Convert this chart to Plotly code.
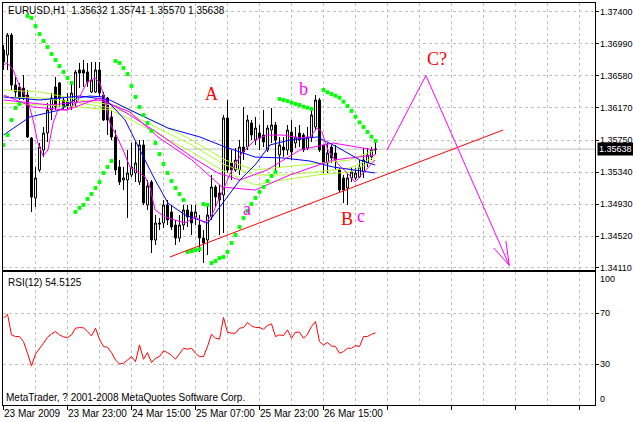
import plotly.graph_objects as go

W, H = 633, 422

# ---------------- data ----------------
bars = list(range(94))
opens = [1.36912,1.36847,1.37104,1.36462,1.36436,1.36423,1.36333,1.35781,1.35010,1.35369,
         1.35626,1.35845,1.36141,1.36436,1.36488,1.36269,1.36256,1.36179,1.36230,1.36655,
         1.36655,1.36629,1.36372,1.36372,1.36655,1.36333,1.36295,1.36051,1.35793,1.35408,
         1.35241,1.35241,1.35305,1.35331,1.35215,1.35691,1.34920,1.35215,1.34470,1.34688,
         1.34688,1.34920,1.34830,1.34662,1.34495,1.34662,1.34855,1.34830,1.34765,1.34662,
         1.34495,1.34470,1.34765,1.35151,1.35074,1.35048,1.36038,1.35459,1.35369,1.35369,
         1.35665,1.35665,1.35973,1.35755,1.35845,1.35819,1.35626,1.35883,1.35948,1.35562,
         1.35665,1.35626,1.35858,1.35716,1.35845,1.35819,1.35652,1.35793,1.35922,1.36269,
         1.35691,1.35459,1.35665,1.35588,1.35369,1.35267,1.35138,1.35267,1.35267,1.35279,
         1.35344,1.35459,1.35537,1.35632]
highs = [1.36976,1.37130,1.37130,1.36565,1.36488,1.36590,1.36398,1.35793,1.35408,1.35716,
         1.35922,1.36230,1.36359,1.36565,1.36500,1.36295,1.36359,1.36500,1.36655,1.36745,
         1.36783,1.36745,1.36757,1.36757,1.36757,1.36372,1.36308,1.36141,1.35883,1.35498,
         1.35408,1.35626,1.35716,1.35729,1.35755,1.35755,1.35241,1.35241,1.34791,1.34752,
         1.34984,1.34984,1.34920,1.34727,1.34791,1.34920,1.34920,1.34920,1.34920,1.34791,
         1.34598,1.34920,1.35305,1.35177,1.35177,1.36076,1.36269,1.35626,1.35652,1.35755,
         1.36179,1.36076,1.36012,1.36051,1.35948,1.36141,1.35948,1.36166,1.35986,1.35793,
         1.35793,1.35948,1.36012,1.35922,1.35948,1.35845,1.35922,1.36141,1.36333,1.36295,
         1.35691,1.35716,1.35691,1.35691,1.35395,1.35305,1.35331,1.35408,1.35395,1.35498,
         1.35652,1.35652,1.35665,1.35741]
lows = [1.36655,1.36655,1.36398,1.36308,1.36269,1.36269,1.35781,1.34830,1.34894,1.35344,
        1.35537,1.35729,1.36012,1.36141,1.36179,1.36141,1.36141,1.36141,1.36179,1.36423,
        1.36436,1.36436,1.36359,1.36359,1.36308,1.36000,1.35819,1.35755,1.35305,1.35177,
        1.35112,1.34752,1.35279,1.35215,1.35177,1.34920,1.34855,1.34303,1.34405,1.34598,
        1.34624,1.34662,1.34598,1.34405,1.34444,1.34598,1.34637,1.34534,1.34662,1.34316,
        1.34174,1.34277,1.34727,1.34894,1.34534,1.34560,1.35331,1.35241,1.35344,1.35305,
        1.35498,1.35626,1.35755,1.35691,1.35626,1.35665,1.35601,1.35716,1.35369,1.35395,
        1.35537,1.35562,1.35498,1.35652,1.35665,1.35601,1.35626,1.35729,1.35883,1.35601,
        1.35331,1.35331,1.35459,1.35369,1.35087,1.34945,1.34920,1.35215,1.35241,1.35267,
        1.35267,1.35408,1.35498,1.35570]
closes = [1.36757,1.37104,1.36462,1.36372,1.36308,1.36295,1.35793,1.35022,1.35267,1.35665,
          1.35845,1.36141,1.36295,1.36179,1.36295,1.36179,1.36179,1.36359,1.36629,1.36616,
          1.36616,1.36500,1.36526,1.36655,1.36359,1.36012,1.36012,1.35793,1.35369,1.35215,
          1.35267,1.35331,1.35408,1.35459,1.35691,1.34945,1.35164,1.34470,1.34688,1.34675,
          1.34920,1.34727,1.34637,1.34495,1.34662,1.34855,1.34765,1.34688,1.34830,1.34495,
          1.34431,1.34791,1.35151,1.35022,1.34984,1.36038,1.35369,1.35369,1.35498,1.35665,
          1.35601,1.36012,1.35819,1.35909,1.35781,1.35729,1.35909,1.35948,1.35755,1.35691,
          1.35626,1.35883,1.35601,1.35793,1.35755,1.35626,1.35793,1.36076,1.36269,1.35626,
          1.35459,1.35588,1.35524,1.35498,1.35112,1.35112,1.35267,1.35344,1.35331,1.35408,
          1.35498,1.35562,1.35626,1.35638]

sar = [1.35691,1.35819,1.36012,1.36166,1.36218,None,1.37349,1.37323,1.37220,1.37117,
       1.37027,1.36950,1.36860,1.36783,1.36706,1.36629,1.36552,1.36488,1.34830,1.34881,
       1.34920,1.34997,1.35061,1.35138,1.35215,1.35331,1.35408,1.35485,1.36770,1.36745,
       1.36680,1.36603,1.36449,1.36308,1.36179,1.36076,1.35973,1.35871,1.35716,1.35575,
       1.35447,1.35331,1.35228,1.35138,1.35061,1.34984,1.34316,1.34328,1.34341,1.34354,
       1.34932,1.34920,1.34174,1.34200,1.34238,1.34251,1.34316,1.34431,1.34534,1.34637,
       1.34752,1.34842,1.34932,1.35010,1.35087,1.35151,1.35228,1.35292,1.35344,1.36282,
       1.36269,1.36256,1.36234,1.36218,1.36205,1.36183,1.36170,1.36153,None,None,
       1.36398,1.36368,1.36346,1.36324,1.36299,1.36247,1.36192,1.36128,1.36054,1.35982,
       1.35922,1.35858,1.35797,1.35742]

rsi = [66.05,69.19,52.98,51.68,51.68,47.75,38.60,28.67,38.08,42.00,
       46.45,51.15,53.77,55.60,52.98,51.41,50.89,52.98,58.21,58.73,
       58.47,55.60,52.20,58.21,49.58,43.83,43.31,39.13,33.37,30.24,
       30.76,33.37,35.99,32.07,45.14,33.90,39.13,31.28,34.68,35.99,
       40.43,39.13,37.04,33.90,38.08,42.53,41.74,42.53,38.60,35.99,
       35.99,43.83,53.51,50.37,49.58,66.58,55.07,54.29,54.29,58.21,
       58.73,62.66,60.04,58.73,58.73,57.43,60.30,61.61,51.68,52.98,
       52.46,56.90,50.37,55.07,55.07,50.37,53.51,59.52,63.44,47.75,
       45.14,46.97,44.36,43.83,38.60,39.91,42.53,42.53,44.62,43.83,
       51.68,51.68,53.51,54.51]

# moving averages (bar index, price)
blue_fast_x = [0,6.6,14.1,18.4,21.6,24.9,27.4,30.4,34.1,37.9,41.1,45.4,51.1,55.4,59.1,62.9,66.6,71.6,78.4,83.4,89.1,92.9]
blue_fast_y = [1.35819,1.36051,1.36141,1.36295,1.36320,1.36308,1.36179,1.36012,1.35626,1.35241,1.34945,1.34791,1.34688,1.34984,1.35241,1.35434,1.35691,1.35755,1.35794,1.35665,1.35498,1.35434]
blue_slow_x = [0,9.1,19.1,26.6,31.6,41.1,49.1,55.4,62.9,69.9,76.6,82.4,92.9]
blue_slow_y = [1.36308,1.36269,1.36320,1.36269,1.36141,1.35909,1.35794,1.35665,1.35536,1.35524,1.35485,1.35408,1.35331]
mag_fast_x = [0,0.9,2.4,4.1,5.9,7.4,8.6,9.9,11.1,12.4,13.6,15.9,18.4,20.9,22.9,24.1,25.4,26.6,28.4,29.9,31.6,32.9,35.4,36.6,37.9,40.4,42.9,45.4,47.9,50.4,52.1,54.6,57.1,59.6,62.9,65.9,69.9,74.1,76.6,78.4,79.6,81.1,83.4,85.9,87.9,89.9,92.1,92.9]
mag_fast_y = [1.36719,1.36745,1.36655,1.36436,1.36295,1.36012,1.35716,1.35549,1.35626,1.35973,1.36141,1.36141,1.36243,1.36500,1.36552,1.36488,1.36269,1.35973,1.35794,1.35626,1.35408,1.35369,1.35279,1.35151,1.34855,1.34765,1.34727,1.34688,1.34765,1.34688,1.34791,1.35074,1.35369,1.35588,1.35755,1.35819,1.35819,1.35781,1.35794,1.35909,1.35858,1.35626,1.35459,1.35331,1.35215,1.35331,1.35459,1.35498]
mag_mid_x = [0,7.4,15.9,24.1,31.6,38.6,47.1,53.6,59.1,65.9,74.1,82.4,92.9]
mag_mid_y = [1.36333,1.36179,1.36141,1.36295,1.36076,1.35845,1.35536,1.35331,1.35241,1.35369,1.35626,1.35716,1.35626]
mag_slow_x = [0,11.6,24.1,31.6,38.6,47.1,54.6,62.9,71.6,82.4,92.9]
mag_slow_y = [1.36269,1.36205,1.36269,1.36115,1.35794,1.35498,1.35151,1.35112,1.35305,1.35498,1.35562]
lime_x = [0,9.1,19.1,26.6,30.4,47.1,55.4,62.9,69.9,78.4,86.6,92.9]
lime1_y = [1.36398,1.36372,1.36269,1.36205,1.36179,1.35755,1.35498,1.35369,1.35408,1.35459,1.35498,1.35626]
lime2_y = [1.36308,1.36295,1.36230,1.36166,1.36115,1.35691,1.35434,1.35305,1.35305,1.35344,1.35395,1.35536]
lime3_y = [1.36230,1.36205,1.36179,1.36141,1.36051,1.35601,1.35344,1.35177,1.35241,1.35305,1.35344,1.35498]

trend_x = [41.6, 124.9]
trend_y = [1.34251, 1.35883]
wave_x = [95.9, 105.6, 126.45]
wave_y = [1.35626, 1.36584, 1.34142]
barb1_x = [122.6, 126.45]
barb1_y = [1.34367, 1.34142]
barb2_x = [125.6, 126.45]
barb2_y = [1.34457, 1.34142]

wave_labels = ["A", "b", "C?", "a", "B", "c"]
wave_label_x = [52.1, 74.9, 108.4, 60.9, 85.9, 89.4]
wave_label_y = [1.36346, 1.36410, 1.36796, 1.34868, 1.34740, 1.34778]
wave_label_colors = ["#ff0000", "#ff00ff", "#ff0000", "#ff00ff", "#ff0000", "#ff00ff"]

price_ticks = [1.37400, 1.36990, 1.36580, 1.36170, 1.35750, 1.35340, 1.34930, 1.34520, 1.34110]
rsi_ticks = [100, 70, 30, 0]
time_tick_bars = [0, 16, 32, 48, 64, 80]
time_tick_labels = ["23 Mar 2009", "23 Mar 23:00", "24 Mar 15:00", "25 Mar 07:00", "25 Mar 23:00", "26 Mar 15:00"]

# ---------------- figure ----------------
FONT = "Liberation Sans"
FS = 10
GRID = "#c0c0c0"
fig = go.Figure()

def line(x, y, color, xa="x", ya="y", width=1):
    fig.add_trace(go.Scatter(x=x, y=y, mode="lines", line=dict(color=color, width=width),
                             xaxis=xa, yaxis=ya, hoverinfo="skip", showlegend=False))

for yy in (lime3_y, lime2_y, lime1_y):
    line(lime_x, yy, "#adff2f")
line(blue_slow_x, blue_slow_y, "#0000ff")
line(mag_slow_x, mag_slow_y, "#ff00ff")
line(mag_mid_x, mag_mid_y, "#ff00ff")
line(blue_fast_x, blue_fast_y, "#0000ff")
line(mag_fast_x, mag_fast_y, "#ff00ff")

fig.add_trace(go.Candlestick(
    x=bars, open=opens, high=highs, low=lows, close=closes,
    increasing=dict(line=dict(color="black", width=1), fillcolor="white"),
    decreasing=dict(line=dict(color="black", width=1), fillcolor="black"),
    whiskerwidth=0, showlegend=False, hoverinfo="skip", xaxis="x", yaxis="y"))

fig.add_trace(go.Scatter(x=bars, y=sar, mode="markers",
                         marker=dict(color="#00ff00", size=3.8, symbol="square"),
                         showlegend=False, hoverinfo="skip", xaxis="x", yaxis="y"))

line(trend_x, trend_y, "#ff0000", width=1)
line(wave_x, wave_y, "#ff00ff")
line(barb1_x, barb1_y, "#ff00ff")
line(barb2_x, barb2_y, "#ff00ff")

line(bars, rsi, "#ff0000", xa="x2", ya="y2")

# current price line
fig.add_shape(type="line", xref="x domain", yref="y", x0=0, x1=1,
              y0=closes[-1], y1=closes[-1], line=dict(color=GRID, width=1), layer="below")

x_left, x_right = 3 / W, 595 / W
xr = [-0.125, 147.875]
axis_common = dict(showline=True, mirror=True, linecolor="black", linewidth=1, automargin=False,
                   zeroline=False, gridcolor=GRID, griddash="3px,3px", gridwidth=1)

fig.update_layout(
    width=W, height=H, margin=dict(l=0, r=0, t=0, b=0, autoexpand=False),
    paper_bgcolor="white", plot_bgcolor="white", showlegend=False,
    font=dict(family=FONT, size=FS, color="black"),
    xaxis=dict(domain=[x_left, x_right], range=xr, anchor="y",
               tickmode="linear", tick0=0, dtick=8, showticklabels=False, ticks="",
               showgrid=True, rangeslider=dict(visible=False), **axis_common),
    yaxis=dict(domain=[1 - 270 / H, 1 - 3 / H], range=[1.340842, 1.375156], side="right",
               tickmode="array", tickvals=price_ticks, showticklabels=False,
               ticks="outside", ticklen=3, tickcolor="black", showgrid=True,
               anchor="x", **axis_common),
    xaxis2=dict(domain=[x_left, x_right], range=xr, anchor="y2", matches="x",
                tickmode="linear", tick0=0, dtick=16, showticklabels=False,
                ticks="outside", ticklen=4, tickcolor="black", showgrid=True,
                minor=dict(tick0=0, dtick=8, showgrid=True, gridcolor=GRID, griddash="3px,3px", ticks=""),
                **axis_common),
    yaxis2=dict(domain=[1 - 405 / H, 1 - 272 / H], range=[-1.9, 102.2], side="right",
                tickmode="array", tickvals=[30, 70], showticklabels=False,
                ticks="outside", ticklen=3, tickcolor="black", showgrid=True,
                anchor="x2", **axis_common),
)

def txt(**kw):
    base = dict(showarrow=False, font=dict(family=FONT, size=FS, color="black"))
    base.update(kw)
    return base

ann = []
ann.append(txt(xref="paper", yref="paper", x=6 / W, y=1 - 10.5 / H, xanchor="left", yanchor="middle",
               text="EURUSD,H1  1.35632 1.35741 1.35570 1.35638"))
ann.append(txt(xref="paper", yref="paper", x=6 / W, y=1 - 282.5 / H, xanchor="left", yanchor="middle",
               text="RSI(12) 54.5125"))
ann.append(txt(xref="paper", yref="paper", x=4 / W, y=1 - 397 / H, xanchor="left", yanchor="middle",
               text="MetaTrader, ? 2001-2008 MetaQuotes Software Corp."))
for b, t in zip(time_tick_bars, time_tick_labels):
    ann.append(txt(xref="x2", yref="paper", x=b, y=1 - 413.5 / H, xanchor="left", yanchor="middle",
                   text=t, xshift=-2))
for v in price_ticks:
    ann.append(txt(xref="paper", yref="y", x=599 / W, y=v, xanchor="left", yanchor="middle",
                   text=f"{v:.5f}", borderpad=0, font=dict(family=FONT, size=9, color="black")))
rsi_shift = {100: -4, 70: 0, 30: 0, 0: 4}
for v in rsi_ticks:
    ann.append(txt(xref="paper", yref="y2", x=599 / W, y=v, xanchor="left", yanchor="middle",
                   yshift=rsi_shift[v], text=str(v), borderpad=0,
                   font=dict(family=FONT, size=9, color="black")))
ann.append(txt(xref="paper", yref="y", x=597 / W, y=closes[-1], xanchor="left", yanchor="middle",
               text=f"{closes[-1]:.5f}", bgcolor="black", borderpad=1,
               font=dict(family=FONT, size=9, color="white")))
for t, x, y, c in zip(wave_labels, wave_label_x, wave_label_y, wave_label_colors):
    ann.append(dict(xref="x", yref="y", x=x, y=y, text=t, showarrow=False,
                    font=dict(family="Liberation Serif", size=18, color=c)))
fig.update_layout(annotations=ann)

fig.write_html("out.html", config={"displayModeBar": False},
               post_script="document.body.style.margin='0';document.body.style.overflow='hidden';")
